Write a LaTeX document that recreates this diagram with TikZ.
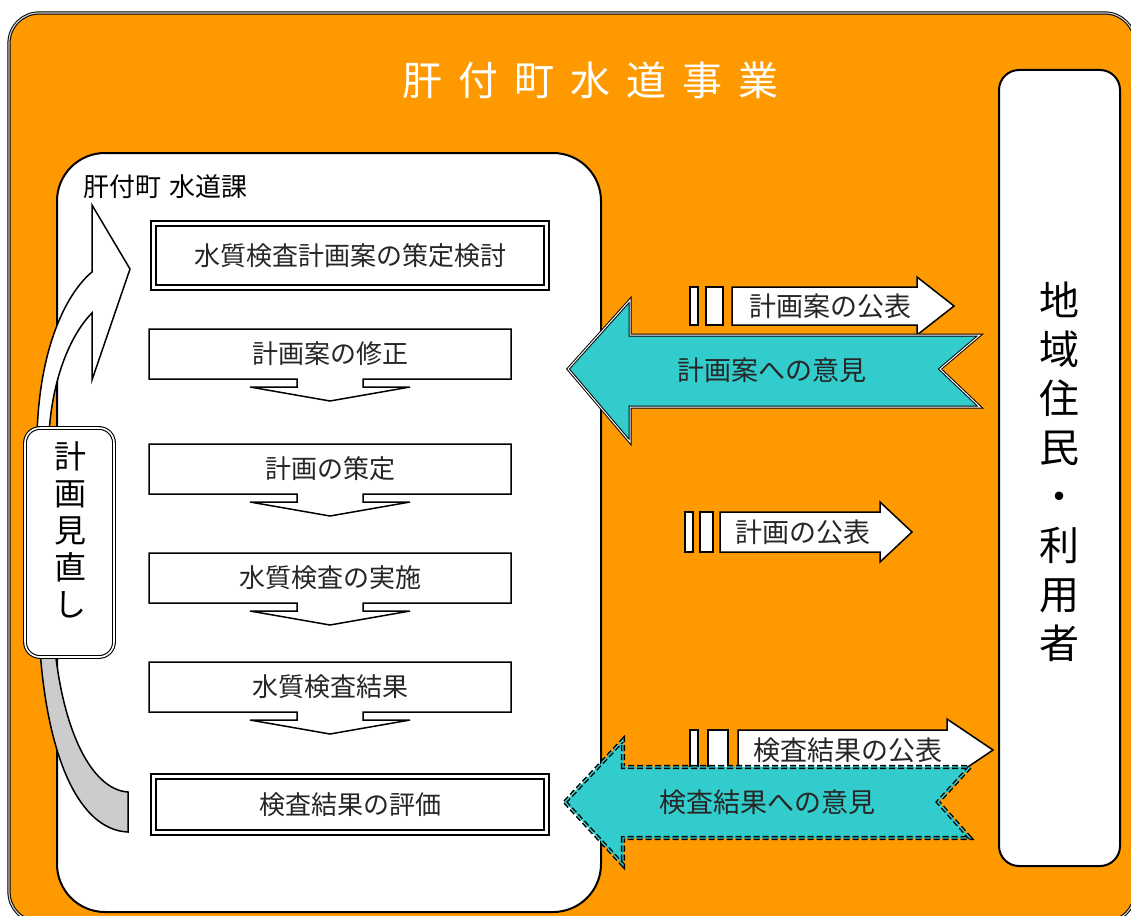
\documentclass[tikz,border=0pt]{standalone}
\usepackage{fontspec}
\setmainfont{Noto Sans CJK JP}
\definecolor{orng}{HTML}{FF9900}
\definecolor{tealfill}{HTML}{33CCCC}
\definecolor{tailgray}{HTML}{CCCCCC}
\newcommand\flowstep[4]{%
  \draw[stepline] (#2,#3) -- ++(362,0) -- ++(0,50) -- ++(-148,0) -- ++(0,8) -- ++(47,0)
    -- ++(-80,14) -- ++(-80,-14) -- ++(47,0) -- ++(0,-8) -- ++(-148,0) -- cycle;
  \node[steptext] (#1) at ({#2+181},{#3+25}) {#4};}
\newcommand\dblbox[6]{%
  \draw[line width=1.6pt, fill=white] (#2,#3) rectangle (#4,#5);
  \draw[line width=1.1pt] ({#2+5},{#3+5}) rectangle ({#4-5},{#5-5});
  \node[steptext] (#1) at ({(#2+#4)/2},{(#3+#5)/2}) {#6};}
\begin{document}
\begin{tikzpicture}[x=1pt,y=-1pt,
  stepline/.style={draw=black, line width=1.5pt, fill=white, line join=miter},
  steptext/.style={font=\fontsize{26}{30}\selectfont, text=black!85, inner sep=0pt},
  arrtext/.style={font=\fontsize{27}{30}\selectfont, text=black!85, inner sep=0pt},
  whitearrow/.style={draw=black, line width=1.5pt, fill=white, line join=miter},
  tealarrow/.style={draw=black, line width=1pt, double=white, double distance=1pt, fill=tealfill, line join=miter},
  tealdashed/.style={draw=black, line width=1.4pt, double=tealfill, double distance=1.4pt, fill=tealfill, dash pattern=on 6pt off 3pt, line join=miter},
  vtext/.style={align=center, inner sep=0pt, text=black}
]
\useasboundingbox (0,0) rectangle (1131,915);
\begin{scope}
  \clip (0,0) rectangle (1131,915);
  % outer orange panel
  \draw[fill=orng, draw=black, line width=1pt, double=gray!40, double distance=1.2pt, rounded corners=30pt]
    (9,13) rectangle (1135,922);
  % inner white panel
  \draw[fill=white, line width=2pt, rounded corners=48pt] (57,153) rectangle (601,912);
\end{scope}

% title
\node[font=\fontsize{40}{44}\selectfont, text=white, inner sep=0pt] (title) at (590,80)
  {肝\hspace{16pt}付\hspace{16pt}町\hspace{16pt}水\hspace{16pt}道\hspace{16pt}事\hspace{16pt}業};
% panel label
\node[font=\fontsize{26}{30}\selectfont, text=black, inner sep=0pt, anchor=west] (dept) at (83,187)
  {肝付町\hspace{8pt}水道課};

% left column boxes
\dblbox{b1}{151}{221}{549}{290}{水質検査計画案の策定検討}
\flowstep{b2}{149}{329}{計画案の修正}
\flowstep{b3}{149}{444}{計画の策定}
\flowstep{b4}{149}{553}{水質検査の実施}
\flowstep{b5}{149}{662}{水質検査結果}
\dblbox{b6}{151}{774}{549}{835}{検査結果の評価}

% curved review arrow: upper white part
\draw[whitearrow, line join=miter]
  (37,434) .. controls (40,340) and (70,290) .. (92,272)
  -- (92,205) -- (130,269) -- (92,380) -- (92,313)
  .. controls (70,335) and (52,380) .. (49,434) -- cycle;
% lower gray tail
\draw[draw=black, line width=1.5pt, fill=tailgray, line join=miter]
  (40,650) .. controls (48,760) and (80,830) .. (128,832)
  -- (128,792) .. controls (95,790) and (65,740) .. (55,650) -- cycle;
% review box
\draw[fill=white, draw=black, line width=1.1pt, double=white, double distance=1.6pt, rounded corners=15pt]
  (25,428) rectangle (114,657);
\node[vtext, font=\fontsize{32}{37}\selectfont] (review) at (70,530) {計\\画\\見\\直\\し};

% residents box
\draw[fill=white, draw=black, line width=2pt, rounded corners=20pt] (999,70) rectangle (1120,866);
\node[vtext, font=\fontsize{40}{49}\selectfont] (res) at (1059,472) {地\\域\\住\\民\\・\\利\\用\\者};

% white striped arrows
\draw[whitearrow] (690,287) rectangle (698,325);
\draw[whitearrow] (706,287) rectangle (723,325);
\draw[whitearrow] (732,287) -- (917,287) -- (917,277) -- (954,306) -- (917,335) -- (917,325) -- (732,325) -- cycle;
\node[arrtext] (pub1) at (830,306) {計画案の公表};

\draw[whitearrow] (685,512) rectangle (693,552);
\draw[whitearrow] (700,512) rectangle (713,552);
\draw[whitearrow] (720,512) -- (880,512) -- (880,502) -- (912,532) -- (880,562) -- (880,552) -- (720,552) -- cycle;
\node[arrtext] (pub2) at (803,532) {計画の公表};

\draw[whitearrow] (690,730) rectangle (698,770);
\draw[whitearrow] (708,730) rectangle (728,770);
\draw[whitearrow] (738,730) -- (947,730) -- (947,719) -- (993,750) -- (947,781) -- (947,770) -- (738,770) -- cycle;
\node[arrtext] (pub3) at (848,750) {検査結果の公表};

% teal opinion arrows
\draw[tealarrow] (568,369) -- (630,300) -- (630,335) -- (980,335) -- (940,369) -- (980,407) -- (630,407) -- (630,442) -- cycle;
\node[arrtext] (op1) at (772,370) {計画案への意見};

\draw[tealdashed] (565,802) -- (623,740) -- (623,767) -- (970,767) -- (938,802) -- (970,838) -- (623,838) -- (623,865) -- cycle;
\node[arrtext] (op2) at (767,802) {検査結果への意見};
\end{tikzpicture}
\end{document}
